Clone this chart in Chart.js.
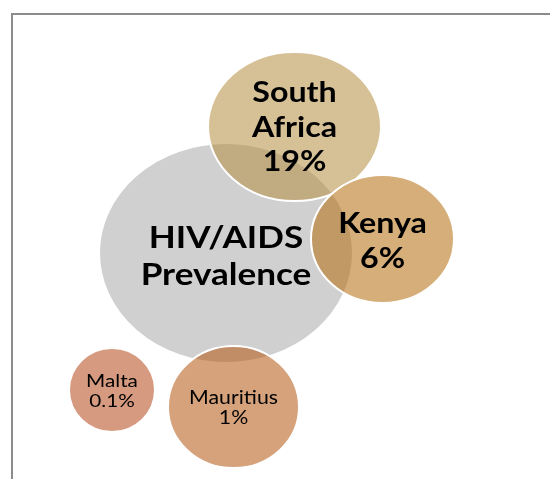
<!DOCTYPE html>
<html>
<head>
<meta charset="utf-8">
<script src="https://cdn.jsdelivr.net/npm/chart.js@4"></script>
<style>
    html, body {
        margin: 0;
        padding: 0;
        background: #ffffff;
        overflow: hidden;
    }
    #wrap {
        position: relative;
        width: 550px;
        height: 479px;
    }
    #frame {
        position: absolute;
        left: 11px;
        top: 13px;
        width: 600px;
        height: 520px;
        border: 2px solid #8c8c8c;
        box-sizing: border-box;
    }
    #bubbles {
        position: absolute;
        left: 0;
        top: 0;
    }
</style>
</head>
<body>
<div id="wrap">
    <div id="frame"></div>
    <canvas id="bubbles" width="550" height="479"></canvas>
</div>
<script>
// data
const centerLabel = ['HIV/AIDS', 'Prevalence'];
const countries = [['South', 'Africa'], ['Kenya'], ['Mauritius'], ['Malta']];
const prevalence = [19, 6, 1, 0.1];

// layout of the diagram (bubble centres in axis units, radii in px)
const layoutX = [226, 294.5, 382.5, 233.5, 112];
const layoutY = [253, 126.5, 239, 407, 390];
const radiusX = [127, 86.5, 71.5, 65.5, 43];
const radiusY = [110, 74.5, 64, 61, 42];

// styles, first entry is the grey centre bubble
const fills = [
    'rgb(208,208,208)',
    'rgba(180,142,66,0.55)',
    'rgba(179,108,11,0.55)',
    'rgba(179,86,17,0.55)',
    'rgba(180,71,24,0.55)'
];
const fontSizes = [30.5, 28, 28, 18.5, 18];
const lineHeights = [37, 34.5, 35, 20, 20];
const textShift = [4, 1, 2, 1, 1];
const fontWeights = ['bold', 'bold', 'bold', 'normal', 'normal'];
const textStretch = 1.15; // the original picture is a bit wider than tall

function makeSprite(rx, ry, fill) {
    const c = document.createElement('canvas');
    c.width = Math.ceil(rx * 2 + 4);
    c.height = Math.ceil(ry * 2 + 4);
    const g = c.getContext('2d');
    g.beginPath();
    g.ellipse(c.width / 2, c.height / 2, rx, ry, 0, 0, Math.PI * 2);
    g.fillStyle = fill;
    g.fill();
    g.lineWidth = 2;
    g.strokeStyle = '#ffffff';
    g.stroke();
    return c;
}

const sprites = layoutX.map((x, i) => makeSprite(radiusX[i], radiusY[i], fills[i]));

// text of each bubble
const bubbleText = [centerLabel];
countries.forEach((name, i) => {
    bubbleText.push(name.concat([prevalence[i] + '%']));
});

const points = layoutX.map((x, i) => ({x: x, y: layoutY[i], r: radiusY[i]}));

const labelPlugin = {
    id: 'bubbleLabels',
    afterDatasetsDraw(chart) {
        const ctx = chart.ctx;
        const meta = chart.getDatasetMeta(0);
        meta.data.forEach((el, i) => {
            const lines = bubbleText[i];
            ctx.save();
            ctx.translate(el.x, el.y + textShift[i]);
            ctx.scale(textStretch, 1);
            ctx.fillStyle = '#000000';
            ctx.textAlign = 'center';
            ctx.textBaseline = 'middle';
            ctx.font = fontWeights[i] + ' ' + fontSizes[i] + 'px Lato, "Open Sans", sans-serif';
            lines.forEach((line, j) => {
                const dy = (j - (lines.length - 1) / 2) * lineHeights[i];
                ctx.fillText(line, 0, dy);
            });
            ctx.restore();
        });
    }
};

new Chart(document.querySelector('#bubbles'), {
    type: 'bubble',
    data: {
        datasets: [{
            data: points,
            pointStyle: (ctx) => sprites[ctx.dataIndex],
            clip: false
        }]
    },
    options: {
        responsive: false,
        animation: false,
        layout: {padding: 0, autoPadding: false},
        plugins: {
            legend: {display: false},
            tooltip: {enabled: false}
        },
        scales: {
            x: {type: 'linear', min: 0, max: 550, display: false},
            y: {type: 'linear', min: 0, max: 479, reverse: true, display: false}
        }
    },
    plugins: [labelPlugin]
});
</script>
</body>
</html>
